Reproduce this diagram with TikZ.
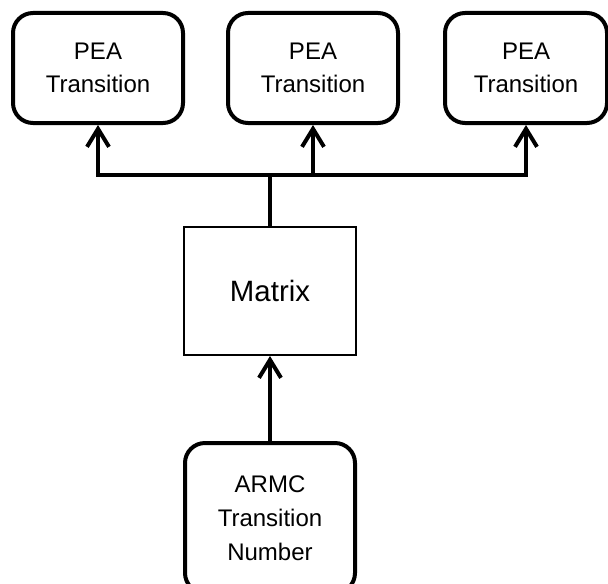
\documentclass[tikz,border=0pt]{standalone}
\usepackage{fontspec}
\setmainfont{Liberation Sans}
\usetikzlibrary{arrows.meta}
\begin{document}
\begin{tikzpicture}[x=0.5pt,y=-0.5pt,
  roundbox/.style={draw, line width=2pt, rounded corners=10pt, align=center,
    inner sep=0pt, font=\fontsize{12}{16.5}\selectfont},
  plainbox/.style={draw, line width=1pt, inner sep=0pt,
    minimum width=86pt, minimum height=64pt, font=\fontsize{14.7}{18}\selectfont},
  link/.style={line width=2pt},
  arr/.style={link, -{Straight Barb[length=9pt, width=11pt, line width=2pt]}}]
  \useasboundingbox (0,0) rectangle (608,583);

  % three output blocks
  \node[roundbox, minimum width=85pt, minimum height=55pt] (p1) at (98,68) {PEA\\Transition};
  \node[roundbox, minimum width=85pt, minimum height=55pt] (p2) at (313,68) {PEA\\Transition};
  \node[roundbox, minimum width=81pt, minimum height=55pt] (p3) at (526,68) {PEA\\Transition};

  % central matrix
  \node[plainbox] (mat) at (270,291) {Matrix};

  % input block, running off the lower edge
  \node[roundbox, minimum width=85pt, minimum height=75pt,
    font=\fontsize{12}{17}\selectfont] (armc) at (270,518) {ARMC\\Transition\\Number};

  % bus from the matrix to the outputs
  \coordinate (j) at (270,175);
  \draw[link] (mat.north) -- (j);
  \draw[arr] (j) -| (p1.south);
  \draw[arr] (j) -| (p2.south);
  \draw[arr] (j) -| (p3.south);

  % input into the matrix
  \draw[arr] (armc.north) -- (mat.south);
\end{tikzpicture}
\end{document}
